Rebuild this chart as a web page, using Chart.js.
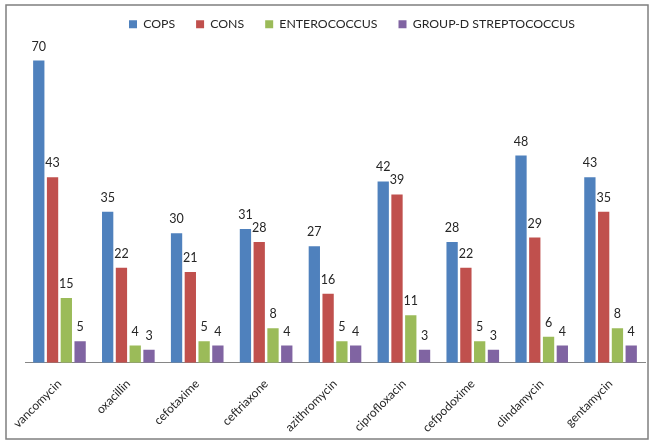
<!DOCTYPE html>
<html>
<head>
<meta charset="utf-8">
<script src="https://cdn.jsdelivr.net/npm/chart.js@4/dist/chart.umd.min.js"></script>
<style>
  html, body { margin: 0; padding: 0; background: #fff; }
  #wrap { position: relative; width: 650px; height: 441px; }
</style>
</head>
<body>
<div id="wrap"><canvas id="c" width="650" height="441"></canvas></div>
<script>
const categories = ["vancomycin", "oxacillin", "cefotaxime", "ceftriaxone", "azithromycin", "ciprofloxacin", "cefpodoxime", "clindamycin", "gentamycin"];
const cops = [70, 35, 30, 31, 27, 42, 28, 48, 43];
const cons = [43, 22, 21, 28, 16, 39, 22, 29, 35];
const enterococcus = [15, 4, 5, 8, 5, 11, 5, 6, 8];
const groupD = [5, 3, 4, 4, 4, 3, 3, 4, 4];
const seriesNames = ["COPS", "CONS", "ENTEROCOCCUS", "GROUP-D STREPTOCOCCUS"];
const seriesColors = ["#4F81BD", "#C0504D", "#9BBB59", "#8064A2"];

const FONT = "Lato, 'Open Sans', sans-serif";

const framePlugin = {
  id: 'frame',
  beforeDraw(chart) {
    const ctx = chart.ctx;
    ctx.save();
    ctx.fillStyle = '#fff';
    ctx.fillRect(0, 0, chart.width, chart.height);
    ctx.strokeStyle = '#7f7f7f';
    ctx.lineWidth = 1.5;
    ctx.strokeRect(6, 5, 642, 434);
    ctx.restore();
  }
};

const legendShift = {
  id: 'legendShift',
  afterLayout(chart) {
    const lg = chart.legend;
    if (lg) {
      lg.left += 17; lg.right += 17;
      lg.top -= 3; lg.bottom -= 3;
    }
  }
};

const valueLabels = {
  id: 'valueLabels',
  afterDatasetsDraw(chart) {
    const ctx = chart.ctx;
    ctx.save();
    ctx.font = "12.5px " + FONT;
    ctx.fillStyle = '#262626';
    ctx.textAlign = 'center';
    ctx.textBaseline = 'middle';
    chart.data.datasets.forEach((ds, i) => {
      const meta = chart.getDatasetMeta(i);
      meta.data.forEach((bar, j) => {
        ctx.fillText(String(ds.data[j]), bar.x, bar.y - 14);
      });
    });
    ctx.restore();
  }
};

const seriesData = [cops, cons, enterococcus, groupD];

new Chart(document.getElementById('c'), {
  type: 'bar',
  data: {
    labels: categories,
    datasets: seriesNames.map((n, i) => ({
      label: n,
      data: seriesData[i],
      backgroundColor: seriesColors[i],
      borderWidth: 0,
      categoryPercentage: 0.8,
      barPercentage: 0.82
    }))
  },
  options: {
    responsive: false,
    animation: false,
    devicePixelRatio: 1,
    layout: { padding: { left: 25, right: 5, top: 0, bottom: 0 } },
    plugins: {
      legend: {
        position: 'top',
        labels: {
          boxWidth: 8, boxHeight: 8,
          color: '#262626',
          font: { size: 12.3, family: FONT },
          padding: 21
        }
      },
      tooltip: { enabled: false }
    },
    scales: {
      x: {
        grid: { display: false },
        border: { display: true, color: '#868686', width: 1 },
        ticks: {
          color: '#262626',
          font: { size: 12, family: FONT },
          minRotation: 45, maxRotation: 45,
          padding: 6
        }
      },
      y: {
        display: false,
        min: 0, max: 74
      }
    }
  },
  plugins: [framePlugin, legendShift, valueLabels]
});
</script>
</body>
</html>
